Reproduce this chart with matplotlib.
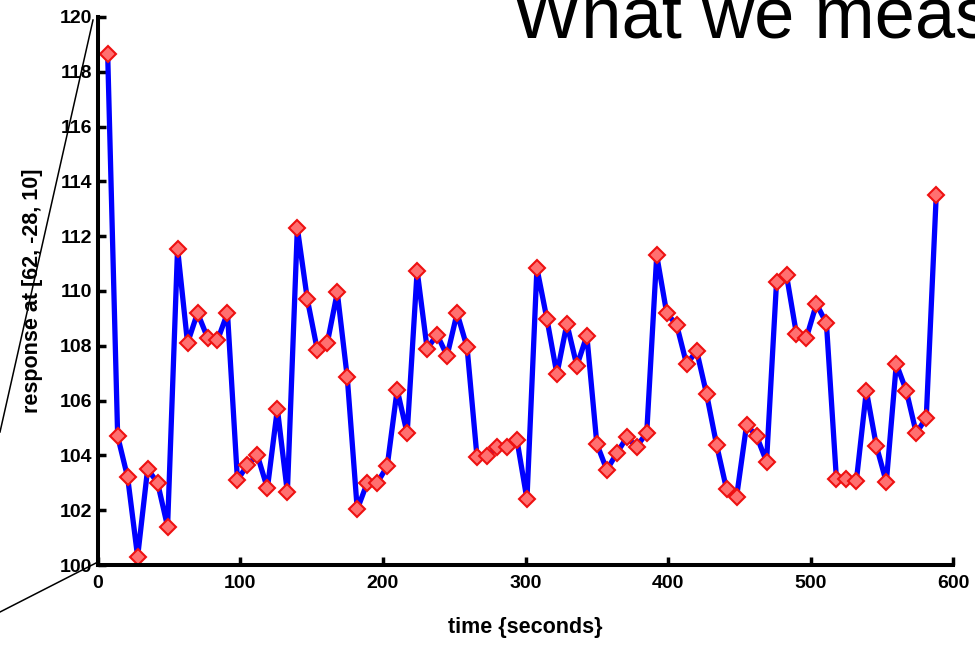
import matplotlib
matplotlib.use("Agg")
import matplotlib.pyplot as plt
from matplotlib.lines import Line2D

plt.rcParams['font.family'] = ['Liberation Sans', 'DejaVu Sans']

# scan times (one volume every 7 s)
time_s = [7, 14, 21, 28, 35, 42, 49, 56, 63, 70, 77, 84,
          91, 98, 105, 112, 119, 126, 133, 140, 147, 154, 161, 168,
          175, 182, 189, 196, 203, 210, 217, 224, 231, 238, 245, 252,
          259, 266, 273, 280, 287, 294, 301, 308, 315, 322, 329, 336,
          343, 350, 357, 364, 371, 378, 385, 392, 399, 406, 413, 420,
          427, 434, 441, 448, 455, 462, 469, 476, 483, 490, 497, 504,
          511, 518, 525, 532, 539, 546, 553, 560, 567, 574, 581, 588]

response = [118.65, 104.7, 103.2, 100.3, 103.5, 103.0, 101.4, 111.55, 108.1, 109.2, 108.3, 108.2,
            109.2, 103.1, 103.65, 104.0, 102.8, 105.7, 102.65, 112.3, 109.7, 107.85, 108.1, 109.95,
            106.85, 102.03, 103.0, 103.0, 103.6, 106.4, 104.8, 110.74, 107.9, 108.4, 107.64, 109.19,
            107.95, 103.93, 103.98, 104.3, 104.3, 104.56, 102.4, 110.83, 108.98, 106.97, 108.8, 107.27,
            108.37, 104.42, 103.47, 104.08, 104.66, 104.32, 104.83, 111.3, 109.19, 108.76, 107.32, 107.82,
            106.23, 104.38, 102.76, 102.49, 105.11, 104.71, 103.77, 110.32, 110.58, 108.42, 108.3, 109.53,
            108.82, 103.14, 103.14, 103.08, 106.36, 104.35, 103.02, 107.34, 106.36, 104.81, 105.38, 113.5]

x_ticks = [0, 100, 200, 300, 400, 500, 600]
y_ticks = [100, 102, 104, 106, 108, 110, 112, 114, 116, 118, 120]

fig = plt.figure(figsize=(9.75, 6.51), dpi=100)
ax = fig.add_axes([0.1002, 0.1321, 0.8776, 0.8418])

ax.plot(time_s, response, color='#0000ff', linewidth=3.8,
        marker='D', markersize=8, markerfacecolor='#ff7070',
        markeredgecolor='#ee1111', markeredgewidth=1.5)

ax.set_xlim(0, 600)
ax.set_ylim(100, 120)
ax.set_xticks(x_ticks)
ax.set_yticks(y_ticks)

for side in ['top', 'right']:
    ax.spines[side].set_visible(False)
for side in ['left', 'bottom']:
    ax.spines[side].set_linewidth(2.9)

ax.tick_params(axis='both', direction='in', length=6, width=2.5,
               labelsize=14)
ax.tick_params(axis='x', pad=7)
ax.tick_params(axis='y', pad=4)
for lab in ax.get_xticklabels() + ax.get_yticklabels():
    lab.set_fontweight('bold')

ax.set_xlabel('time {seconds}', fontsize=15.5, fontweight='bold', labelpad=18)
ax.set_ylabel('response at [62, -28, 10]', fontsize=15.5, fontweight='bold', labelpad=12)

# zoom lines from the slide, leading off to the left
fig.add_artist(Line2D([93 / 975, 0], [1 - 20 / 651, 1 - 432 / 651],
                      transform=fig.transFigure, color='black', linewidth=1.1))
fig.add_artist(Line2D([96 / 975, 0], [1 - 563 / 651, 1 - 612 / 651],
                      transform=fig.transFigure, color='black', linewidth=1.1))

# slide title, cut off at the top and right as in the slide
fig.text(513 / 975, 1 - 37 / 651, 'What we measure', fontsize=52,
         ha='left', va='baseline', color='black')

fig.savefig('out.png', dpi=100)
